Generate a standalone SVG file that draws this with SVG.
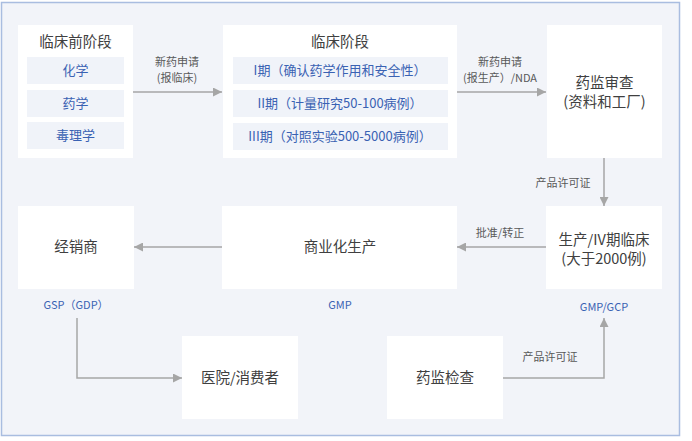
<svg xmlns="http://www.w3.org/2000/svg" width="692" height="441" viewBox="0 0 692 441">
<style>
text{font-family:"Noto Sans CJK SC","Noto Sans",sans-serif;}
.box{fill:#ffffff;}
.sub{fill:#f0f3f9;}
.t{font-size:14.5px;fill:#404040;text-anchor:middle;}
.s{font-size:13px;fill:#3a62b3;text-anchor:middle;}
.lb{font-size:11px;fill:#595959;text-anchor:middle;}
.bl{font-size:11px;fill:#3a62b3;text-anchor:middle;}
.c{fill:none;stroke:#a6a6a6;stroke-width:1.5;}
</style>
<defs>
<marker id="ah" viewBox="0 0 10 10" refX="10" refY="5" markerWidth="9" markerHeight="9" markerUnits="userSpaceOnUse" orient="auto">
<path d="M0,0 L10,5 L0,10 z" fill="#a6a6a6"/>
</marker>
</defs>
<rect x="1.5" y="2.5" width="678" height="433" fill="#f2f4f9" stroke="#a9bde0" stroke-width="1.5"/>

<g id="preclinical">
<rect class="box" x="18" y="25" width="115" height="133"/>
<text class="t" x="75.5" y="47">临床前阶段</text>
<rect class="sub" x="27" y="57" width="97" height="27"/>
<text class="s" x="75.5" y="75">化学</text>
<rect class="sub" x="27" y="90" width="97" height="27"/>
<text class="s" x="75.5" y="108">药学</text>
<rect class="sub" x="27" y="122" width="97" height="27"/>
<text class="s" x="75.5" y="140">毒理学</text>
</g>

<g id="clinical">
<rect class="box" x="223" y="25" width="234" height="133"/>
<text class="t" x="340" y="47">临床阶段</text>
<rect class="sub" x="233" y="57" width="215" height="27"/>
<text class="s" x="340" y="75">I期（确认药学作用和安全性）</text>
<rect class="sub" x="233" y="90" width="215" height="27"/>
<text class="s" x="340" y="108">II期（计量研究50-100病例）</text>
<rect class="sub" x="233" y="123" width="215" height="27"/>
<text class="s" x="340" y="141">III期（对照实验500-5000病例）</text>
</g>

<g id="review">
<rect class="box" x="547" y="25" width="115" height="133"/>
<text class="t" x="604.5" y="88">药监审查</text>
<text class="t" x="604.5" y="107">(资料和工厂)</text>
</g>

<g id="production">
<rect class="box" x="546" y="206" width="116" height="83"/>
<text class="t" x="604" y="245">生产/IV期临床</text>
<text class="t" x="604" y="264">(大于2000例)</text>
<text class="bl" x="604" y="311">GMP/GCP</text>
</g>

<g id="commercial">
<rect class="box" x="222" y="206" width="235" height="83"/>
<text class="t" x="340" y="252">商业化生产</text>
<text class="bl" x="340" y="309">GMP</text>
</g>

<g id="distributor">
<rect class="box" x="18" y="206" width="116" height="83"/>
<text class="t" x="76" y="252">经销商</text>
<text class="bl" x="76" y="309">GSP（GDP）</text>
</g>

<g id="hospital">
<rect class="box" x="182" y="336" width="116" height="83"/>
<text class="t" x="240" y="383">医院/消费者</text>
</g>

<g id="inspection">
<rect class="box" x="387" y="336" width="116" height="83"/>
<text class="t" x="445" y="383">药监检查</text>
</g>

<g id="connectors">
<path class="c" d="M133,92 H222" marker-end="url(#ah)"/>
<text class="lb" x="177" y="66">新药申请</text>
<text class="lb" x="177" y="82">(报临床)</text>
<path class="c" d="M457,92 H546" marker-end="url(#ah)"/>
<text class="lb" x="500" y="66">新药申请</text>
<text class="lb" x="500" y="82">(报生产）/NDA</text>
<path class="c" d="M604,158 V206" marker-end="url(#ah)"/>
<text class="lb" x="563" y="187">产品许可证</text>
<path class="c" d="M546,247 H457" marker-end="url(#ah)"/>
<text class="lb" x="500" y="237">批准/转正</text>
<path class="c" d="M222,247 H134" marker-end="url(#ah)"/>
<path class="c" d="M77,318 V378 H182" marker-end="url(#ah)"/>
<path class="c" d="M503,378 H604 V318" marker-end="url(#ah)"/>
<text class="lb" x="550" y="361">产品许可证</text>
</g>
</svg>
